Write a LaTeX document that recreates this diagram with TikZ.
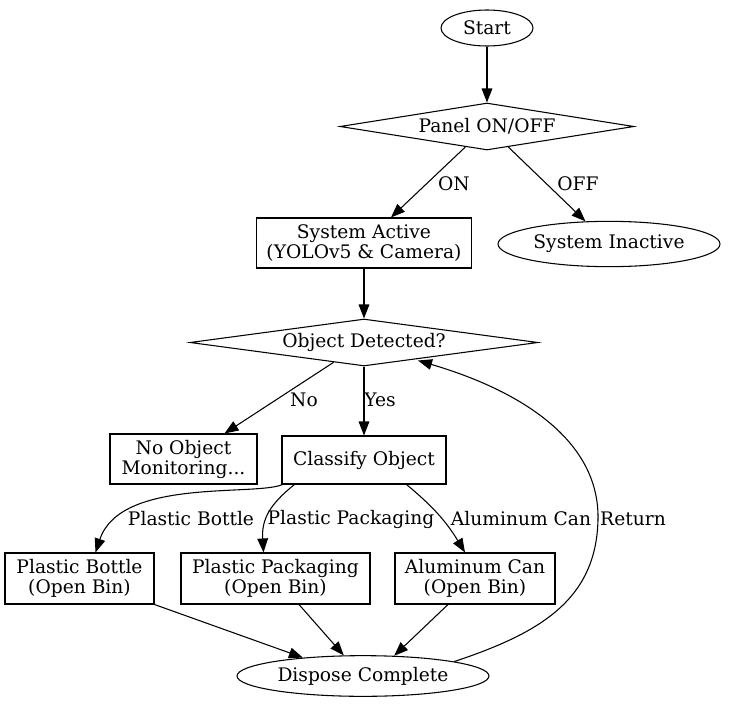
\documentclass[tikz,border=0pt]{standalone}
\usepackage{fontspec}
\setmainfont{DejaVu Serif}
\usetikzlibrary{shapes.geometric,arrows.meta,calc}
\tikzset{
  base/.style={draw,line width=0.8pt,inner sep=0pt,align=center,font=\fontsize{14}{15}\selectfont},
  boxn/.style={base,rectangle},
  ell/.style={base,ellipse},
  dia/.style={base,diamond,aspect=6.25},
  edge/.style={line width=0.8pt,-{Triangle[length=10.5pt,width=8pt]}},
  lbl/.style={inner sep=0pt,font=\fontsize{14}{15}\selectfont}
}
\begin{document}
\begin{tikzpicture}[x=0.75pt,y=-0.75pt]
\useasboundingbox (0,0) rectangle (729,707);
% nodes
\node[ell,minimum width=69pt,minimum height=27pt] (start) at (487,28) {Start};
\node[dia,minimum width=220.5pt,minimum height=35.25pt] (panel) at (487,126.5) {Panel ON/OFF};
\node[boxn,minimum width=161.25pt,minimum height=37.5pt] (sysact) at (364,243) {System Active\\(YOLOv5 \& Camera)};
\node[ell,minimum width=166.5pt,minimum height=34pt] (inactive) at (609,244) {System Inactive};
\node[dia,minimum width=261pt,minimum height=35.25pt] (objdet) at (364,342.5) {Object Detected?};
\node[boxn,minimum width=110.25pt,minimum height=37.5pt] (noobj) at (183.5,459) {No Object\\Monitoring...};
\node[boxn,minimum width=123pt,minimum height=36pt] (classify) at (364,460) {Classify Object};
\node[boxn,minimum width=111.75pt,minimum height=38.25pt] (pb) at (79.5,578.5) {Plastic Bottle\\(Open Bin)};
\node[boxn,minimum width=141.75pt,minimum height=38.25pt] (pp) at (275.5,578.5) {Plastic Packaging\\(Open Bin)};
\node[boxn,minimum width=120pt,minimum height=38.25pt] (ac) at (475,578.5) {Aluminum Can\\(Open Bin)};
\node[ell,minimum width=189pt,minimum height=30.5pt] (dispose) at (363,676) {Dispose Complete};
% edges
\draw[edge] (start) -- (panel);
\draw[edge] (panel) -- (sysact);
\draw[edge] (panel) -- (inactive);
\draw[edge] (sysact) -- (objdet);
\draw[edge] (objdet) -- ($(noobj.north)+(41,0)$);
\draw[edge] (objdet) -- (classify);
\draw[edge] ($(classify.south west)+(1,0)$) .. controls ($(classify.south west)+(-27,12)$) and ($(pb.north)+(41,-75)$) .. ($(pb.north)+(16,0)$);
\draw[edge] ($(classify.south west)+(13,0)$) .. controls ($(classify.south west)+(-12,20)$) and ($(pp.north)+(-14,-33)$) .. ($(pp.north)+(-12,0)$);
\draw[edge] ($(classify.south east)+(-40,0)$) .. controls ($(classify.south east)+(-16,20)$) and ($(ac.north)+(-30,-33)$) .. ($(ac.north)+(-10,0)$);
\draw[edge] (pb.south east) -- (dispose.163);
\draw[edge] ($(pp.south)+(23.5,0)$) -- (dispose.133);
\draw[edge] ($(ac.south)+(-27,0)$) -- (dispose.33);
\draw[edge] (dispose.9) .. controls ($(dispose)+(177,-43)$) and ($(dispose)+(233,-76)$) .. ($(dispose)+(235,-156)$)
  .. controls ($(dispose)+(237,-236)$) and ($(objdet)+(156,48)$) .. ($(objdet)+(54,18)$);
% labels
\node[lbl] (lon) at (454,184) {ON};
\node[lbl] (loff) at (578,184) {OFF};
\node[lbl] (lno) at (304,400) {No};
\node[lbl] (lyes) at (380,400) {Yes};
\node[lbl] (lpb) at (191,519) {Plastic Bottle};
\node[lbl] (lpp) at (351,519) {Plastic Packaging};
\node[lbl] (lac) at (521,519) {Aluminum Can};
\node[lbl] (lret) at (633,519) {Return};
\end{tikzpicture}
\end{document}
